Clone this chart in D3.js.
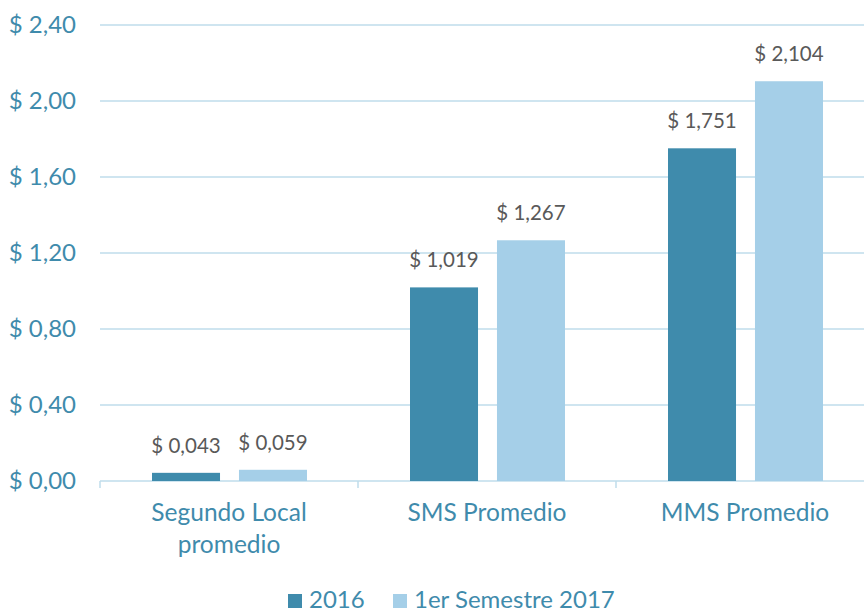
<!DOCTYPE html>
<html lang="es">
<head>
<meta charset="utf-8">
<script src="https://d3js.org/d3.v7.min.js"></script>
<style>
  body { margin: 0; background: #fff; }
  svg { display: block; font-family: Lato, "Open Sans", sans-serif; }
</style>
</head>
<body>
<script>
// data
const categories = ["Segundo Local promedio", "SMS Promedio", "MMS Promedio"];
const catLines = [["Segundo Local", "promedio"], ["SMS Promedio"], ["MMS Promedio"]];
const seriesNames = ["2016", "1er Semestre 2017"];
const values2016 = [0.043, 1.019, 1.751];
const values2017 = [0.059, 1.267, 2.104];
const yTicks = [0, 0.4, 0.8, 1.2, 1.6, 2.0, 2.4];

const colors = ["#3F8BAC", "#A5CFE8"];
const W = 864, H = 613;

const svg = d3.select("body").append("svg")
  .attr("width", W).attr("height", H);

// scales
const x0 = d3.scaleBand().domain(categories).range([100, 874]).padding(0);
const x1 = d3.scaleBand().domain(seriesNames)
  .range([52, 207]).paddingInner(0.218).paddingOuter(0);
const y = d3.scaleLinear().domain([0, 2.4]).range([481, 25]);

const fmtTick = d => "$ " + d.toFixed(2).replace(".", ",");
const fmtVal = d => "$ " + d.toFixed(3).replace(".", ",");

// gridlines
svg.append("g")
  .selectAll("line")
  .data(yTicks.slice(1))
  .join("line")
    .attr("x1", 100).attr("x2", W)
    .attr("y1", d => y(d)).attr("y2", d => y(d))
    .attr("stroke", "#BFDDEB").attr("stroke-width", 1.5);

// y axis labels
const yAxis = svg.append("g")
  .attr("transform", "translate(76,0)")
  .call(d3.axisLeft(y).tickValues(yTicks).tickFormat(fmtTick).tickSize(0).tickPadding(0));
yAxis.select(".domain").remove();
yAxis.selectAll("text")
  .attr("fill", "#3F8BAC")
  .style("font-size", "24px")
  .style("font-family", "Lato, 'Open Sans', sans-serif");

// x axis
const xAxis = svg.append("g")
  .attr("transform", "translate(0," + y(0) + ")");
xAxis.append("line")
  .attr("x1", 100).attr("x2", W)
  .attr("stroke", "#BFDDEB").attr("stroke-width", 1.5);
xAxis.selectAll(".tick")
  .data(categories.concat(["end"]))
  .join("line")
    .attr("class", "tick")
    .attr("x1", (d, i) => 100 + i * x0.step())
    .attr("x2", (d, i) => 100 + i * x0.step())
    .attr("y1", 0).attr("y2", 7)
    .attr("stroke", "#BFDDEB").attr("stroke-width", 1.5);

// category labels
categories.forEach((c, i) => {
  const t = svg.append("text")
    .attr("x", x0(c) + x0.bandwidth() / 2)
    .attr("y", 521)
    .attr("text-anchor", "middle")
    .attr("fill", "#3F8BAC")
    .style("font-size", "24.5px");
  catLines[i].forEach((line, j) => {
    t.append("tspan")
      .attr("x", x0(c) + x0.bandwidth() / 2)
      .attr("dy", j === 0 ? 0 : 32)
      .text(line);
  });
});

// bars
const rows = categories.map((c, i) => ({
  cat: c,
  vals: [
    {s: seriesNames[0], v: values2016[i]},
    {s: seriesNames[1], v: values2017[i]}
  ]
}));

const groups = svg.append("g").selectAll("g")
  .data(rows)
  .join("g")
    .attr("transform", d => "translate(" + x0(d.cat) + ",0)");

groups.selectAll("rect")
  .data(d => d.vals)
  .join("rect")
    .attr("x", d => x1(d.s))
    .attr("y", d => y(d.v))
    .attr("width", x1.bandwidth())
    .attr("height", d => y(0) - y(d.v))
    .attr("fill", (d, i) => colors[i]);

groups.selectAll("text")
  .data(d => d.vals)
  .join("text")
    .attr("x", d => x1(d.s) + x1.bandwidth() / 2)
    .attr("y", d => y(d.v) - 20)
    .attr("text-anchor", "middle")
    .attr("fill", "#595959")
    .style("font-size", "20.5px")
    .text(d => fmtVal(d.v));

// legend
const legend = svg.append("g").attr("transform", "translate(0,599)");
const legX = [288, 393];
seriesNames.forEach((s, i) => {
  legend.append("rect")
    .attr("x", legX[i]).attr("y", -5)
    .attr("width", 14).attr("height", 14)
    .attr("fill", colors[i]);
  legend.append("text")
    .attr("x", legX[i] + 21).attr("y", 9)
    .attr("fill", "#3F8BAC")
    .style("font-size", "24px")
    .text(s);
});
</script>
</body>
</html>
